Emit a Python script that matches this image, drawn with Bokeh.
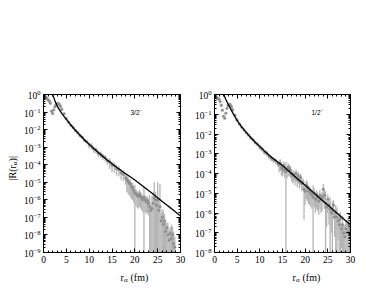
import numpy as np
from bokeh.plotting import figure
from bokeh.models import (Range1d, LinearAxis, Label, FixedTicker, ColumnDataSource,
                          CustomJSTickFormatter)
from bokeh.layouts import row, column
from bokeh.embed import file_html
from bokeh.resources import INLINE

# ---------------- data: left panel (3/2-) ----------------
r_32 = [0.25, 0.5, 0.75, 1.0, 1.25, 1.5, 1.75, 2.0, 2.25, 2.5, 2.75, 3.0, 3.25, 3.5, 3.75, 4.0,
        4.5, 5.0, 5.5, 6.0, 6.5, 7.0, 7.5, 8.0, 8.5, 9.0, 9.5, 10.0, 10.5, 11.0, 11.5, 12.0, 12.5,
        13.0, 13.5, 14.0, 14.5, 15.0, 15.5, 16.0, 16.5, 17.0, 17.5, 18.0,
        18.25, 18.5, 18.75, 19.0, 19.25, 19.5, 19.75, 20.0, 20.25, 20.5, 20.75, 21.0, 21.25, 21.5,
        21.75, 22.0, 22.25, 22.5, 22.75, 23.0, 23.25, 23.5, 23.75, 24.0, 24.25, 24.5, 24.75, 25.0,
        25.25, 25.5, 25.75, 26.0, 26.25, 26.5, 26.75, 27.0, 27.25, 27.5, 27.75, 28.0, 28.25, 28.5, 28.75]
# -log10 |R|
mlogR_32 = [0.12, 0.15, 0.22, 0.30, 0.38, 0.50, 0.95, 1.08, 0.88, 0.70, 0.58, 0.53, 0.52, 0.58, 0.68, 0.85,
            1.10, 1.38, 1.58, 1.76, 1.90, 2.06, 2.18, 2.34, 2.44, 2.62, 2.70, 2.86, 2.93, 3.10, 3.16, 3.34, 3.40,
            3.52, 3.60, 3.78, 3.84, 4.02, 4.06, 4.22, 4.28, 4.46, 4.55, 4.75,
            4.85, 4.95, 5.05, 5.10, 5.25, 5.30, 5.45, 5.60, 5.65, 5.75, 5.80, 5.70, 5.80, 5.90,
            6.00, 5.85, 6.00, 6.10, 6.05, 6.20, 6.40, 6.60, 6.50, 6.20, 5.90, 6.00, 6.30, 6.00,
            6.60, 6.40, 7.20, 7.00, 7.40, 7.20, 7.80, 7.60, 8.00, 8.30, 7.90, 8.20, 8.00, 8.50, 8.70]
relerr_32 = [0.08] * 16 + [0.1] * 11 + [0.4] * 9 + [0.6] * 8 + \
            [0.8] * 7 + [2.0] + [0.8] * 7 + [3.0] + [0.8] * 4 + \
            [4, 1.2, 4, 3, 7, 2, 1.5, 9, 4, 20, 2, 2, 5, 1.5, 3, 1.0, 4, 3, 1.2, 5, 2, 4, 3]
fit_r_32 = [1.8, 2.0, 2.5, 3.0, 3.5, 4.0, 4.5, 5.0, 6.0, 7.0, 8.0, 9.0, 10.0, 11.0, 12.0, 13.0, 14.0,
            15.0, 16.0, 17.0, 18.0, 19.0, 20.0, 21.0, 22.0, 23.0, 24.0, 25.0, 26.0, 27.0, 28.0, 29.0, 30.0]
fit_mlogR_32 = [-0.15, 0.0, 0.35, 0.66, 0.88, 1.07, 1.25, 1.42, 1.74, 2.04, 2.32, 2.59, 2.84, 3.08, 3.31,
                3.53, 3.74, 3.94, 4.14, 4.33, 4.51, 4.69, 4.87, 5.07, 5.27, 5.47, 5.67, 5.88, 6.09, 6.30,
                6.50, 6.71, 6.92]

# ---------------- data: right panel (1/2-) ----------------
r_12 = [0.25, 0.5, 0.75, 1.0, 1.25, 1.5, 1.75, 2.0, 2.25, 2.5, 2.75, 3.0, 3.25, 3.5, 3.75, 4.0,
        4.5, 5.0, 5.5, 6.0, 6.5, 7.0, 7.5, 8.0, 8.5, 9.0, 9.5, 10.0, 10.5, 11.0, 11.5, 12.0, 12.5,
        13.0, 13.5, 14.0,
        14.25, 14.5, 14.75, 15.0, 15.25, 15.5, 15.75, 16.0, 16.25, 16.5, 16.75, 17.0, 17.25, 17.5,
        17.75, 18.0, 18.25, 18.5, 18.75, 19.0, 19.25, 19.5, 19.75, 20.0, 20.25, 20.5, 20.75, 21.0,
        21.25, 21.5, 21.75, 22.0, 22.25, 22.5, 22.75, 23.0, 23.25, 23.5, 23.75, 24.0, 24.25, 24.5,
        24.75, 25.0, 25.25, 25.5, 25.75, 26.0, 26.25, 26.5, 26.75, 27.0, 27.25, 27.5, 27.75, 28.0,
        28.25, 28.5, 28.75, 29.0, 29.25, 29.5, 29.75, 30.0]
mlogR_12 = [0.12, 0.18, 0.20, 0.24, 0.36, 0.55, 0.80, 1.10, 1.20, 0.95, 0.70, 0.55, 0.50, 0.52, 0.62, 0.78,
            1.05, 1.30, 1.50, 1.66, 1.80, 1.94, 2.06, 2.20, 2.30, 2.44, 2.53, 2.66, 2.75, 2.90, 2.97, 3.12, 3.22,
            3.30, 3.36, 3.50,
            3.55, 3.48, 3.70, 3.76, 3.60, 3.82, 3.90, 3.85, 3.70, 3.76, 3.82, 4.00, 4.10, 4.04,
            4.20, 4.00, 4.30, 4.12, 4.36, 4.20, 4.50, 4.44, 4.80, 4.90, 4.60, 4.70, 4.86, 4.90,
            5.00, 5.10, 5.20, 5.00, 5.30, 5.10, 5.20, 5.40, 5.10, 5.30, 5.20, 4.80, 5.10, 5.50,
            5.70, 5.30, 5.60, 5.80, 6.00, 5.90, 5.60, 6.20, 6.00, 6.20, 6.40, 6.60, 6.30, 6.80,
            6.60, 7.00, 7.20, 6.80, 7.00, 6.60, 6.90, 6.80]
relerr_12 = [0.08] * 16 + [0.1] * 11 + [0.3] * 9 + [0.6] * 6 + [2.0] + [0.6] * 15 + [0.97] + \
            [0.8] * 7 + [3.0] + [0.8] * 10 + \
            [3, 0.9, 0.8, 0.9, 3, 0.9, 2, 0.8, 0.9, 1.5, 2, 0.9, 3, 1.2, 0.9, 2, 1.5, 3, 2, 3, 1.2, 2, 1.5]
fit_r_12 = [1.9, 2.06, 2.5, 3.0, 3.5, 4.0, 4.5, 5.0, 6.0, 7.0, 8.0, 9.0, 10.0, 11.0, 12.0, 13.0, 14.0,
            15.0, 16.0, 17.0, 18.0, 19.0, 20.0, 21.0, 22.0, 23.0, 24.0, 25.0, 26.0, 27.0, 28.0, 29.0, 30.0]
fit_mlogR_12 = [-0.15, 0.0, 0.25, 0.48, 0.70, 0.92, 1.12, 1.32, 1.64, 1.92, 2.18, 2.42, 2.64, 2.86, 3.06,
                3.25, 3.43, 3.60, 3.80, 4.00, 4.20, 4.40, 4.60, 4.80, 5.00, 5.20, 5.40, 5.60, 5.80, 6.00,
                6.20, 6.40, 6.60]

x_ticks = [0, 5, 10, 15, 20, 25, 30]
panel_labels = ["3/2", "1/2"]

SERIF = "Liberation Serif"
ERR_COLOR = "#b4b4b4"
PT_COLOR = "#8e8e8e"
PANEL_H = 268
TOTAL_H = 297


def make_panel(r, mlog, rel, fr, fmlog, ymin_exp, label, width, border_left, label_x):
    ymin = 10.0 ** ymin_exp
    p = figure(width=width, height=PANEL_H, y_axis_type="log", output_backend="svg",
               toolbar_location=None, x_range=Range1d(0, 30), y_range=Range1d(ymin, 1.0),
               min_border_left=border_left, min_border_right=10, min_border_top=94,
               min_border_bottom=16)
    p.xgrid.visible = False
    p.ygrid.visible = False
    p.outline_line_color = "black"
    p.outline_line_width = 1
    p.background_fill_color = "white"
    p.border_fill_color = "white"

    R = 10.0 ** (-np.array(mlog))
    relv = np.array(rel)
    lo = np.where(relv < 1.0, R * (1.0 - relv), ymin * 1e-3)
    hi = R * (1.0 + relv)
    src = ColumnDataSource(dict(r=r, R=R, lo=lo, hi=hi))
    p.segment(x0="r", y0="lo", x1="r", y1="hi", source=src, line_color=ERR_COLOR, line_width=1.3)
    p.scatter(x="r", y="R", source=src, marker="circle", size=2.6, fill_color=PT_COLOR,
              line_color=PT_COLOR, line_width=0.5)
    p.line(x=fr, y=10.0 ** (-np.array(fmlog)), line_color="black", line_width=1.3)

    yt = [10.0 ** e for e in range(ymin_exp, 1)]
    ymin_t = [m * 10.0 ** e for e in range(ymin_exp, 0) for m in range(2, 10)]

    bottom = p.below[0]
    left = p.left[0]
    bottom.ticker = FixedTicker(ticks=x_ticks, minor_ticks=list(range(0, 31)))
    left.ticker = FixedTicker(ticks=yt, minor_ticks=ymin_t)
    p.add_layout(LinearAxis(ticker=FixedTicker(ticks=x_ticks, minor_ticks=list(range(0, 31))),
                            formatter=CustomJSTickFormatter(code="return '';"),
                            major_label_standoff=0), "above")
    p.add_layout(LinearAxis(ticker=FixedTicker(ticks=yt, minor_ticks=ymin_t),
                            formatter=CustomJSTickFormatter(code="return '';"),
                            major_label_standoff=0), "right")
    for ax in p.axis:
        ax.major_tick_in = 4
        ax.major_tick_out = 0
        ax.minor_tick_in = 2
        ax.minor_tick_out = 0
        ax.axis_line_color = "black"
        ax.major_tick_line_color = "black"
        ax.minor_tick_line_color = "black"
    for ax in (bottom, left):
        ax.major_label_standoff = 3
        ax.major_label_text_font = SERIF
        ax.major_label_text_font_size = "9.5px"
        ax.major_label_text_color = "black"

    # panel label e.g. 3/2^-
    p.add_layout(Label(x=label_x, y=140, x_units="screen", y_units="screen", text=label,
                       text_font="Liberation Sans", text_font_size="6.5px", text_align="left",
                       text_baseline="middle", text_color="black"))
    p.add_layout(Label(x=label_x + 9.4, y=143, x_units="screen", y_units="screen", text="-",
                       text_font="Liberation Sans", text_font_size="5px", text_align="left",
                       text_baseline="middle", text_color="black"))
    return p


def blank_fig(width, height):
    f = figure(width=width, height=height, output_backend="svg", toolbar_location=None,
               x_range=Range1d(0, 1), y_range=Range1d(0, 1), x_axis_location=None,
               y_axis_location=None, min_border=0)
    f.xgrid.visible = False
    f.ygrid.visible = False
    f.outline_line_color = None
    f.background_fill_color = "white"
    f.border_fill_color = "white"
    return f


def xlabel_fig(width, x0):
    f = blank_fig(width, TOTAL_H - PANEL_H)
    yb = 20
    f.add_layout(Label(x=x0, y=yb, x_units="screen", y_units="screen", text="r",
                       text_font=SERIF, text_font_size="10px", text_align="left",
                       text_baseline="alphabetic", text_color="black"))
    f.add_layout(Label(x=x0 + 3.4, y=yb - 2.5, x_units="screen", y_units="screen", text="α",
                       text_font=SERIF, text_font_size="7px", text_align="left",
                       text_baseline="alphabetic", text_color="black"))
    f.add_layout(Label(x=x0 + 10.0, y=yb, x_units="screen", y_units="screen", text="(fm)",
                       text_font=SERIF, text_font_size="10px", text_align="left",
                       text_baseline="alphabetic", text_color="black"))
    return f


def ylabel_fig(width):
    f = blank_fig(width, TOTAL_H)
    ys = 117
    xb = 12
    f.add_layout(Label(x=xb, y=ys, x_units="screen", y_units="screen", text="|R(r",
                       angle=np.pi / 2, text_font=SERIF, text_font_size="10px",
                       text_align="left", text_baseline="alphabetic", text_color="black"))
    f.add_layout(Label(x=xb + 2.5, y=ys + 15.3, x_units="screen", y_units="screen", text="α",
                       angle=np.pi / 2, text_font=SERIF, text_font_size="7px",
                       text_align="left", text_baseline="alphabetic", text_color="black"))
    f.add_layout(Label(x=xb, y=ys + 19.1, x_units="screen", y_units="screen", text=")|",
                       angle=np.pi / 2, text_font=SERIF, text_font_size="10px",
                       text_align="left", text_baseline="alphabetic", text_color="black"))
    return f


p1 = make_panel(r_32, mlogR_32, relerr_32, fit_r_32, fit_mlogR_32, -9, panel_labels[0], 171, 24, 87)
p2 = make_panel(r_12, mlogR_12, relerr_12, fit_r_12, fit_mlogR_12, -8, panel_labels[1], 170, 24, 97)
xl1 = xlabel_fig(171, 77)
xl2 = xlabel_fig(170, 78)
yl = ylabel_fig(19)

layout = row(yl, column(p1, xl1), column(p2, xl2))
open("out.html", "w").write(file_html(layout, INLINE))
